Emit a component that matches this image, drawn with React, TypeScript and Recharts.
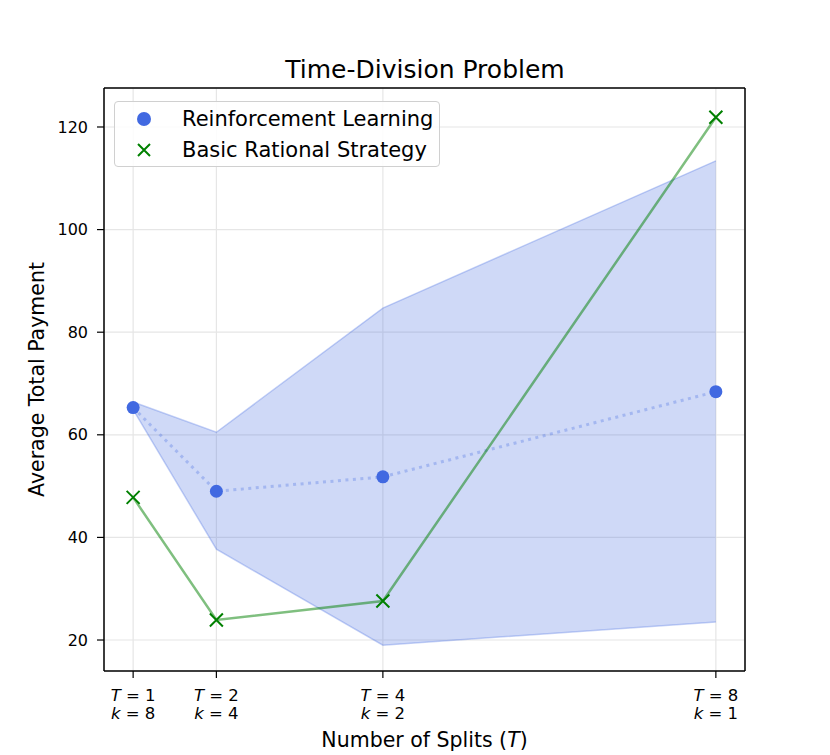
import React from "react"
import { ComposedChart, Area, Line, XAxis, YAxis, CartesianGrid, ReferenceLine } from "recharts"

// values
const splits = [1, 2, 4, 8]
const kValues = [8, 4, 2, 1]
const rlMean = [65.3, 49.0, 51.8, 68.4]
const rlLower = [64.9, 37.7, 19.0, 23.5]
const rlUpper = [66.4, 60.5, 84.7, 113.4]
const basicRational = [47.8, 23.9, 27.6, 121.9]
const yTicks = [20, 40, 60, 80, 100, 120]

const BLUE = "#4169e1"
const GREEN = "#008000"
const FONT = "'DejaVu Sans', sans-serif"

const chartData = splits.map((T, i) => ({
  T,
  k: kValues[i],
  rl: rlMean[i],
  band: [rlLower[i], rlUpper[i]],
  basic: basicRational[i],
}))

const XTick = ({ x, y, payload }: any) => {
  const i = splits.indexOf(payload.value)
  return (
    <g fontFamily={FONT} fontSize={16.5} fill="#000">
      <text x={x} y={y + 21} textAnchor="middle">
        <tspan fontStyle="italic">T</tspan>
        <tspan> = {payload.value}</tspan>
      </text>
      <text x={x} y={y + 39} textAnchor="middle">
        <tspan fontStyle="italic">k</tspan>
        <tspan> = {kValues[i]}</tspan>
      </text>
    </g>
  )
}

const RLDot = ({ cx, cy }: any) => <circle cx={cx} cy={cy} r={6.5} fill={BLUE} />

const XMark = ({ cx, cy }: any) => (
  <path d={`M${cx - 6.5},${cy - 6.5}L${cx + 6.5},${cy + 6.5}M${cx - 6.5},${cy + 6.5}L${cx + 6.5},${cy - 6.5}`} stroke={GREEN} strokeWidth={2} />
)

const YLabel = ({ viewBox }: any) => {
  const cy = viewBox.y + viewBox.height / 2
  return (
    <text x={44} y={cy} transform={`rotate(-90 44 ${cy})`} textAnchor="middle" fontFamily={FONT} fontSize={20.5} fill="#000">
      Average Total Payment
    </text>
  )
}

const XLabel = ({ viewBox }: any) => (
  <text x={viewBox.x + viewBox.width / 2} y={746.5} textAnchor="middle" fontFamily={FONT} fontSize={20.5} fill="#000">
    Number of Splits (<tspan fontStyle="italic">T</tspan>)
  </text>
)

export default function App() {
  return (
    <div style={{ position: "absolute", left: 0, top: 0, width: 830, height: 755, background: "#fff", fontFamily: FONT }}>
      <div style={{ position: "absolute", left: 0, top: 54, width: 850, textAlign: "center", fontSize: 25, lineHeight: "32px", color: "#000" }}>
        Time-Division Problem
      </div>
      <ComposedChart width={830} height={755} data={chartData} margin={{ top: 88, right: 85, bottom: 0, left: 0 }}>
        <CartesianGrid stroke="#e6e6e6" strokeWidth={1.2} />
        <XAxis
          dataKey="T"
          type="number"
          domain={[0.65, 8.35]}
          ticks={splits}
          allowDataOverflow
          height={84}
          tickSize={7}
          tick={<XTick />}
          stroke="#000"
          axisLine={{ stroke: "#000", strokeWidth: 1.5 }}
          tickLine={{ stroke: "#000", strokeWidth: 1.2 }}
          label={<XLabel />}
        />
        <YAxis
          type="number"
          domain={[13.96, 127.6]}
          ticks={yTicks}
          allowDataOverflow
          width={104}
          tickSize={7}
          tickMargin={9}
          tick={{ fontSize: 16, fill: "#000", fontFamily: FONT }}
          axisLine={{ stroke: "#000", strokeWidth: 1.5 }}
          tickLine={{ stroke: "#000", strokeWidth: 1.2 }}
          label={<YLabel />}
        />
        <ReferenceLine y={127.6} stroke="#000" strokeWidth={1.5} />
        <ReferenceLine x={8.35} stroke="#000" strokeWidth={1.5} />
        <Area
          type="linear"
          dataKey="band"
          fill={BLUE}
          fillOpacity={0.25}
          stroke={BLUE}
          strokeOpacity={0.3}
          strokeWidth={1.5}
          isAnimationActive={false}
        />
        <Line
          type="linear"
          dataKey="rl"
          stroke={BLUE}
          strokeOpacity={0.3}
          strokeWidth={3}
          strokeDasharray="3 4.5"
          dot={<RLDot />}
          activeDot={false}
          isAnimationActive={false}
        />
        <Line
          type="linear"
          dataKey="basic"
          stroke={GREEN}
          strokeOpacity={0.5}
          strokeWidth={2.5}
          dot={<XMark />}
          activeDot={false}
          isAnimationActive={false}
        />
      </ComposedChart>
      <div
        style={{
          position: "absolute",
          left: 114,
          top: 101,
          width: 324,
          height: 64,
          border: "1px solid #d0d0d0",
          borderRadius: 4,
          background: "rgba(255,255,255,0.85)",
          fontSize: 21,
          color: "#000",
        }}
      >
        <div style={{ position: "absolute", left: 0, top: 5, height: 24, display: "flex", alignItems: "center" }}>
          <svg width={60} height={24}>
            <circle cx={29} cy={12} r={7} fill={BLUE} />
          </svg>
          <span style={{ marginLeft: 7 }}>Reinforcement Learning</span>
        </div>
        <div style={{ position: "absolute", left: 0, top: 36, height: 24, display: "flex", alignItems: "center" }}>
          <svg width={60} height={24}>
            <path d="M23,6L35,18M23,18L35,6" stroke={GREEN} strokeWidth={2} />
          </svg>
          <span style={{ marginLeft: 7 }}>Basic Rational Strategy</span>
        </div>
      </div>
    </div>
  )
}
